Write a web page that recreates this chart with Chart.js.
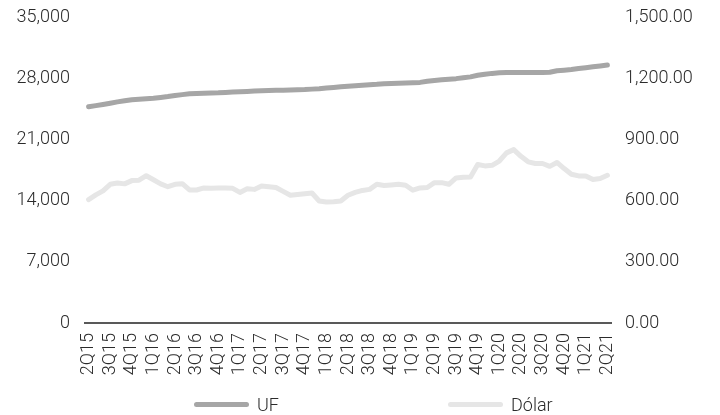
<!DOCTYPE html>
<html lang="es">
<head>
<meta charset="utf-8">
<title>UF y Dólar</title>
<script src="https://cdn.jsdelivr.net/npm/chart.js@4.4.1/dist/chart.umd.min.js"></script>
<style>
  html, body { margin: 0; padding: 0; background: #fff; }
  #contenedor { position: relative; width: 720px; height: 415px; font-family: Roboto, 'Liberation Sans', sans-serif; font-weight: 300; }
  #grafico { display: block; }
  .leyenda-item { position: absolute; top: 393px; height: 22px; display: flex; align-items: center; font-size: 18px; color: #2b2b2b; }
  .leyenda-item:nth-child(2) { left: 194px; }
  .leyenda-item:nth-child(3) { left: 448px; }
  .leyenda-linea { width: 55px; height: 5px; border-radius: 3px; margin-right: 8px; }
</style>
</head>
<body>
<div id="contenedor">
  <canvas id="grafico" width="720" height="415"></canvas>
</div>
<script>
// Trimestres del eje X (uno cada tres meses)
const trimestres = [
  '2Q15', '3Q15', '4Q15', '1Q16', '2Q16', '3Q16', '4Q16', '1Q17', '2Q17',
  '3Q17', '4Q17', '1Q18', '2Q18', '3Q18', '4Q18', '1Q19', '2Q19', '3Q19',
  '4Q19', '1Q20', '2Q20', '3Q20', '4Q20', '1Q21', '2Q21'
];

// Valor mensual de la UF (eje izquierdo)
const uf = [
  24730, 24860, 25000, 25140, 25290, 25420, 25540, 25590, 25650, 25700,
  25800, 25900, 26020, 26120, 26220, 26260, 26290, 26310, 26330, 26370,
  26410, 26450, 26490, 26540, 26570, 26590, 26610, 26630, 26650, 26680,
  26700, 26750, 26800, 26870, 26940, 27010, 27080, 27140, 27190, 27250,
  27300, 27370, 27400, 27430, 27450, 27480, 27520, 27650, 27740, 27810,
  27880, 27950, 28050, 28150, 28330, 28450, 28550, 28620, 28660, 28660,
  28660, 28660, 28660, 28660, 28680, 28850, 28920, 29000, 29110, 29200,
  29300, 29400, 29500
];

// Dólar observado mensual (eje derecho)
const dolar = [
  605, 628, 648, 680, 686, 682, 698, 700, 722, 702,
  682, 668, 680, 683, 652, 652, 662, 660, 662, 662,
  660, 640, 658, 655, 672, 668, 664, 645, 626, 630,
  634, 637, 598, 593, 594, 598, 626, 640, 650, 655,
  680, 674, 677, 680, 675, 651, 662, 664, 688, 688,
  680, 711, 714, 716, 777, 770, 773, 794, 834, 850,
  817, 790, 782, 782, 768, 787, 757, 729, 721, 721,
  703, 708, 724
];

// Una etiqueta por trimestre, el resto de los meses quedan en blanco
const etiquetasMes = uf.map((_, i) => (i % 3 === 0 ? trimestres[i / 3] : ''));

const colorTexto = '#2b2b2b';
const fuente = { family: 'Roboto, "Liberation Sans", sans-serif', size: 18, weight: 300 };

const grafico = new Chart(document.getElementById('grafico').getContext('2d'), {
  type: 'line',
  data: {
    labels: etiquetasMes,
    datasets: [
      {
        label: 'UF',
        data: uf,
        yAxisID: 'y',
        borderColor: '#a6a6a6',
        backgroundColor: '#a6a6a6',
        borderWidth: 5,
        borderCapStyle: 'round',
        borderJoinStyle: 'round',
        pointRadius: 0,
        tension: 0
      },
      {
        label: 'Dólar',
        data: dolar,
        yAxisID: 'y1',
        borderColor: '#e6e6e6',
        backgroundColor: '#e6e6e6',
        borderWidth: 5,
        borderCapStyle: 'round',
        borderJoinStyle: 'round',
        pointRadius: 0,
        tension: 0
      }
    ]
  },
  options: {
    responsive: false,
    animation: false,
    layout: { padding: { top: 17, left: 0, right: 0, bottom: 0 } },
    plugins: {
      legend: { display: false },
      tooltip: { enabled: false }
    },
    scales: {
      x: {
        offset: true,
        grid: { display: false, tickLength: 8 },
        border: { display: true, color: '#595959', width: 2 },
        ticks: {
          autoSkip: false,
          minRotation: 90,
          maxRotation: 90,
          padding: 2,
          color: colorTexto,
          font: fuente
        },
        afterFit: (scale) => { scale.height = 92; }
      },
      y: {
        position: 'left',
        min: 0,
        max: 35000,
        grid: { display: false, tickLength: 9 },
        border: { display: false },
        ticks: {
          stepSize: 7000,
          padding: 6,
          color: colorTexto,
          font: fuente,
          callback: (v) => v.toLocaleString('en-US')
        },
        afterFit: (scale) => { scale.width = 85; }
      },
      y1: {
        position: 'right',
        min: 0,
        max: 1500,
        grid: { display: false, tickLength: 9 },
        border: { display: false },
        ticks: {
          stepSize: 300,
          padding: 5,
          color: colorTexto,
          font: fuente,
          callback: (v) => v.toLocaleString('en-US', { minimumFractionDigits: 2, maximumFractionDigits: 2 })
        },
        afterFit: (scale) => { scale.width = 109; }
      }
    }
  }
});

// Leyenda en HTML, a partir de los datasets del gráfico
function crearLeyenda(chart) {
  const contenedor = document.getElementById('contenedor');
  chart.data.datasets.forEach((ds) => {
    const item = document.createElement('div');
    item.className = 'leyenda-item';
    const linea = document.createElement('span');
    linea.className = 'leyenda-linea';
    linea.style.background = ds.borderColor;
    const texto = document.createElement('span');
    texto.textContent = ds.label;
    item.appendChild(linea);
    item.appendChild(texto);
    contenedor.appendChild(item);
  });
}

crearLeyenda(grafico);
</script>
</body>
</html>
